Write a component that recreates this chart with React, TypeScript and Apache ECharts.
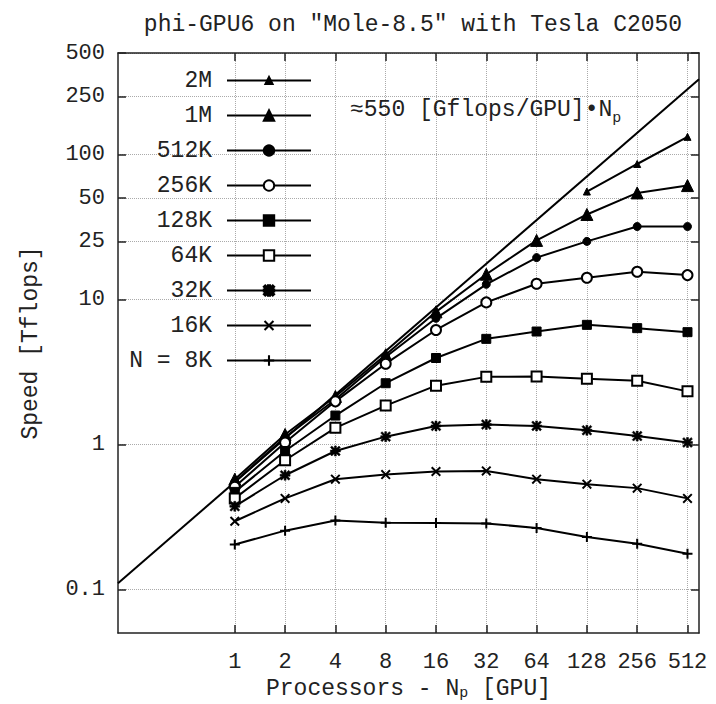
import React, { useEffect, useRef } from 'react';
import * as echarts from 'echarts';

const NP = [1, 2, 4, 8, 16, 32, 64, 128, 256, 512];
const NP_2M = [128, 256, 512];
const S_2M = [55.4, 85.8, 132];
const S_1M = [0.575, 1.17, 2.14, 4.15, 8.2, 14.9, 25.5, 38.5, 54.2, 60.9];
const S_512K = [0.55, 1.12, 2.04, 4.0, 7.4, 12.7, 19.4, 25.1, 31.8, 31.8];
const S_256K = [0.51, 1.03, 1.98, 3.6, 6.15, 9.53, 12.8, 14.1, 15.5, 14.7];
const S_128K = [0.47, 0.9, 1.58, 2.64, 3.94, 5.34, 6.0, 6.67, 6.33, 5.94];
const S_64K = [0.424, 0.777, 1.3, 1.85, 2.54, 2.92, 2.94, 2.83, 2.75, 2.32];
const S_32K = [0.374, 0.612, 0.9, 1.13, 1.34, 1.37, 1.34, 1.25, 1.14, 1.03];
const S_16K = [0.295, 0.424, 0.575, 0.619, 0.65, 0.656, 0.575, 0.531, 0.499, 0.424];
const S_8K = [0.204, 0.254, 0.298, 0.288, 0.287, 0.285, 0.265, 0.23, 0.206, 0.176];
const IDEAL = [
  [0.2, 0.11],
  [600, 330],
];
const Y_TICKS = [0.1, 1, 10, 25, 50, 100, 250, 500];

const FONT = 'Liberation Mono';
const TXT = '#222';

const PLUS = 'path://M4,0h2v4h4v2h-4v4h-2v-4h-4v-2h4z';
const CROSS = 'path://M0,1.4L1.4,0L5,3.6L8.6,0L10,1.4L6.4,5L10,8.6L8.6,10L5,6.4L1.4,10L0,8.6L3.6,5Z';
const STAR =
  'path://M4,0h2v4h4v2h-4v4h-2v-4h-4v-2h4zM0,1.4L1.4,0L5,3.6L8.6,0L10,1.4L6.4,5L10,8.6L8.6,10L5,6.4L1.4,10L0,8.6L3.6,5Z';

const pairs = (xs: number[], ys: number[]) => xs.map((x, i) => [x, ys[i]]);

export default function App() {
  const ref = useRef<HTMLDivElement>(null);
  useEffect(() => {
    if (!ref.current) return;
    const chart = echarts.init(ref.current, null, { renderer: 'svg' });

    const mk = (name: string, xs: number[], ys: number[], symbol: string, size: number, bw = 1) => ({
      name,
      type: 'line',
      data: pairs(xs, ys),
      symbol,
      symbolSize: size,
      showSymbol: true,
      lineStyle: { color: '#000', width: 2 },
      itemStyle: { color: '#000', borderColor: '#000', borderWidth: bw },
      emphasis: { disabled: true },
      z: 3,
    });

    const series: any[] = [
      {
        name: 'ideal',
        type: 'line',
        data: IDEAL,
        symbol: 'none',
        lineStyle: { color: '#000', width: 2 },
        emphasis: { disabled: true },
        z: 2,
      },
      mk('2M', NP_2M, S_2M, 'triangle', 7),
      mk('1M', NP, S_1M, 'triangle', 12),
      mk('512K', NP, S_512K, 'circle', 8),
      mk('256K', NP, S_256K, 'emptyCircle', 10, 1.5),
      mk('128K', NP, S_128K, 'rect', 9),
      mk('64K', NP, S_64K, 'emptyRect', 10, 1.5),
      mk('32K', NP, S_32K, STAR, 10, 0.5),
      mk('16K', NP, S_16K, CROSS, 10, 0),
      mk('N = 8K', NP, S_8K, PLUS, 10, 0),
    ];

    const legendText = {
      fontFamily: FONT,
      fontSize: 23,
      color: TXT,
      lineHeight: 20,
      padding: [0, 10, 0, 0],
    };

    const axisLineStyle = { color: '#222', width: 1.5 };
    const gridLine = { show: true, lineStyle: { type: 'dotted', color: '#aaa', width: 1 } };

    chart.setOption({
      animation: false,
      backgroundColor: '#fff',
      title: {
        text: 'phi-GPU6 on "Mole-8.5" with Tesla C2050',
        left: 408,
        top: 8,
        textAlign: 'center',
        textStyle: { fontFamily: FONT, fontSize: 23, fontWeight: 'normal', color: TXT },
      },
      grid: { left: 118, right: 17, top: 53, bottom: 71, containLabel: false, outerBoundsMode: 'none' },
      legend: [
        {
          data: ['2M'],
          orient: 'vertical',
          align: 'right',
          right: 399,
          top: 64,
          itemWidth: 84,
          itemHeight: 9,
          selectedMode: false,
          textStyle: legendText,
        },
        {
          data: ['1M', '512K', '256K', '128K', '64K', '32K', '16K', 'N = 8K'],
          orient: 'vertical',
          align: 'right',
          right: 399,
          top: 99,
          itemWidth: 84,
          itemHeight: 13,
          itemGap: 12,
          selectedMode: false,
          textStyle: legendText,
        },
      ],
      xAxis: [
        {
          type: 'log',
          logBase: 2,
          min: 0.2,
          max: 600,
          position: 'bottom',
          name: '{a|Processors - N}{s|p}{a| [GPU]}',
          nameLocation: 'middle',
          nameGap: 44,
          nameTextStyle: {
            rich: {
              a: { fontFamily: FONT, fontSize: 23, color: TXT, lineHeight: 24 },
              s: { fontFamily: FONT, fontSize: 15, color: TXT, lineHeight: 24, verticalAlign: 'bottom' },
            },
          },
          axisLine: { show: true, lineStyle: axisLineStyle },
          axisTick: { show: true, inside: true, length: 8, customValues: NP, lineStyle: axisLineStyle },
          axisLabel: {
            customValues: NP,
            fontFamily: FONT,
            fontSize: 22,
            color: TXT,
            margin: 18,
            formatter: (v: number) => String(Math.round(v)),
          },
          splitLine: gridLine,
          minorTick: { show: false },
          minorSplitLine: { show: false },
        },
        {
          type: 'log',
          logBase: 2,
          min: 0.2,
          max: 600,
          position: 'top',
          axisLine: { show: true, lineStyle: axisLineStyle },
          axisTick: { show: true, inside: true, length: 8, customValues: NP, lineStyle: axisLineStyle },
          axisLabel: { show: false },
          splitLine: { show: false },
        },
      ],
      yAxis: [
        {
          type: 'log',
          logBase: 10,
          min: 0.05,
          max: 500,
          position: 'left',
          name: 'Speed [Tflops]',
          nameLocation: 'middle',
          nameGap: 76,
          nameTextStyle: { fontFamily: FONT, fontSize: 23, color: TXT },
          axisLine: { show: true, lineStyle: axisLineStyle },
          axisTick: { show: true, inside: true, length: 8, customValues: Y_TICKS, lineStyle: axisLineStyle },
          axisLabel: {
            customValues: Y_TICKS,
            fontFamily: FONT,
            fontSize: 22,
            color: TXT,
            margin: 13,
            formatter: (v: number) => String(parseFloat(v.toPrecision(3))),
          },
          splitLine: gridLine,
          minorTick: { show: false },
          minorSplitLine: { show: false },
        },
        {
          type: 'log',
          logBase: 10,
          min: 0.05,
          max: 500,
          position: 'right',
          axisLine: { show: true, lineStyle: axisLineStyle },
          axisTick: { show: true, inside: true, length: 8, customValues: Y_TICKS, lineStyle: axisLineStyle },
          axisLabel: { show: false },
          splitLine: { show: false },
        },
      ],
      graphic: [
        {
          type: 'text',
          left: 350,
          top: 98,
          z: 10,
          style: {
            text: '{a|≈550 [Gflops/GPU]•N}{s|p}',
            rich: {
              a: { fontFamily: FONT, fontSize: 23, fill: TXT, lineHeight: 32 },
              s: { fontFamily: FONT, fontSize: 15, fill: TXT, lineHeight: 32, verticalAlign: 'bottom' },
            },
          },
        },
      ],
      series,
    });

    return () => chart.dispose();
  }, []);

  return (
    <div
      ref={ref}
      style={{ position: 'fixed', left: 0, top: 0, width: 716, height: 704, background: '#fff' }}
    />
  );
}
